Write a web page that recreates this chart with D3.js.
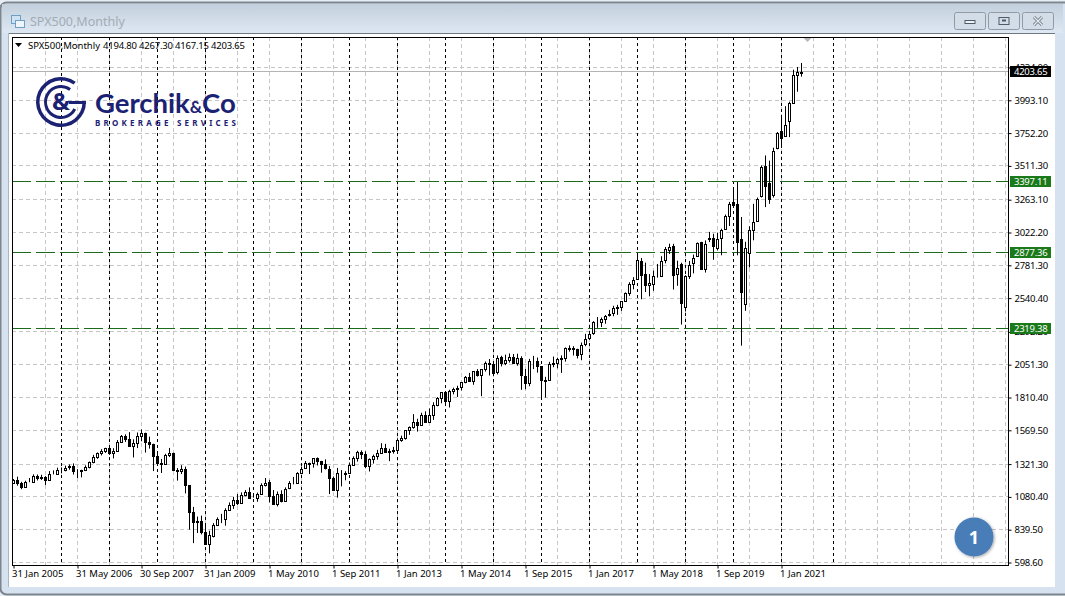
<!DOCTYPE html>
<html>
<head>
<meta charset="utf-8">
<title>SPX500,Monthly</title>
<script src="https://cdn.jsdelivr.net/npm/d3@7"></script>
<style>
  html, body { margin: 0; padding: 0; background: #dfe9f3; overflow: hidden; }
  svg { display: block; font-family: "Noto Sans", sans-serif; }
</style>
</head>
<body>
<div id="chart"></div>
<script>
// Monthly candles, oldest first
const opens = [
  1181,1203,1180,1156,1191,1191,1234,1220,1228,1207,1249,
  1248,1280,1280,1302,1310,1270,1270,1278,1303,1335,1377,1400,
  1418,1438,1406,1420,1482,1530,1503,1455,1473,1526,1549,1481,
  1468,1378,1330,1322,1385,1400,1280,1267,1282,1166,968,896,
  903,825,735,793,872,919,919,987,1020,1057,1036,1095,
  1115,1085,1073,1104,1169,1188,1089,1031,1101,1049,1143,1183,1186,
  1257,1289,1328,1329,1365,1345,1320,1287,1219,1131,1251,1246,
  1258,1312,1366,1408,1398,1310,1362,1379,1406,1440,1412,1416,
  1426,1498,1514,1569,1597,1631,1606,1685,1632,1681,1756,1806,
  1848,1782,1859,1873,1884,1923,1960,1930,2003,1972,2018,2067,
  2058,1996,2105,2067,2087,2108,2067,2104,1970,1919,2080,2082,
  2039,1937,1938,2057,2067,2093,2099,2173,2171,2164,2128,2200,
  2251,2285,2364,2363,2388,2415,2431,2477,2474,2521,2578,2645,
  2683,2816,2715,2633,2642,2718,2704,2821,2896,2926,2717,2790,
  2476,2703,2798,2848,2952,2751,2971,2980,2909,2983,3050,3144,
  3244,3235,2974,2498,2869,3038,3105,3288,3507,3385,3296,3645,
  3764,3731,3842,3974,4181,4194.80
];
const highs = [
  1212,1229,1191,1199,1219,1246,1245,1243,1233,1270,1275,
  1295,1297,1310,1318,1326,1284,1280,1312,1340,1389,1407,1431,
  1441,1461,1438,1498,1535,1540,1556,1503,1553,1576,1552,1523,
  1471,1396,1359,1397,1440,1405,1292,1313,1303,1167,1007,936,
  943,875,832,888,930,956,997,1040,1081,1102,1113,1130,
  1150,1097,1112,1180,1219,1205,1131,1120,1129,1150,1196,1227,1262,
  1302,1344,1332,1364,1370,1345,1356,1307,1230,1293,1277,1269,
  1333,1378,1419,1422,1415,1363,1391,1426,1475,1470,1434,1448,
  1510,1530,1570,1598,1688,1654,1698,1709,1730,1775,1813,1849,
  1850,1867,1883,1897,1924,1968,1991,2005,2019,2018,2075,2093,
  2072,2119,2117,2125,2134,2130,2132,2113,2020,2094,2116,2104,
  2039,1962,2072,2111,2103,2120,2178,2193,2187,2169,2214,2278,
  2300,2371,2401,2398,2416,2454,2484,2491,2519,2582,2657,2694,
  2872,2835,2801,2717,2742,2791,2848,2916,2940,2939,2815,2800,
  2708,2813,2860,2949,2954,2964,3027,3013,3021,3050,3154,3247,
  3337,3393,3136,2954,3068,3233,3279,3514,3588,3550,3645,3760,
  3870,3950,3983,4218,4238,4267.30
];
const lows = [
  1180,1163,1137,1146,1188,1183,1201,1205,1168,1201,1246,
  1245,1253,1268,1280,1245,1219,1224,1270,1290,1327,1360,1385,
  1403,1389,1363,1416,1476,1484,1448,1370,1439,1489,1406,1435,
  1270,1316,1256,1320,1373,1272,1200,1248,1106,840,741,815,
  805,735,666,783,866,888,869,978,992,1020,1029,1085,
  1071,1075,1045,1101,1157,1040,1028,1010,1040,1049,1137,1173,1186,
  1257,1289,1249,1295,1311,1258,1282,1101,1136,1075,1158,1202,
  1258,1312,1340,1358,1291,1267,1325,1354,1397,1403,1343,1398,
  1426,1485,1501,1536,1581,1560,1604,1627,1633,1646,1746,1768,
  1770,1737,1834,1814,1862,1915,1930,1904,1964,1820,2001,1972,
  1988,1980,2039,2048,2067,2056,2044,1867,1871,1893,2019,1993,
  1812,1810,1937,2033,2025,1991,2074,2147,2119,2097,2084,2187,
  2245,2271,2322,2328,2352,2405,2407,2417,2446,2520,2557,2605,
  2683,2532,2585,2553,2594,2691,2698,2796,2864,2603,2631,2346,
  2443,2681,2722,2848,2750,2728,2952,2822,2891,2855,3050,3070,
  3214,2855,2191,2447,2766,2965,3101,3279,3209,3233,3279,3633,
  3662,3725,3723,3974,4056,4167.15
];
const closes = [
  1203,1180,1156,1191,1191,1234,1220,1228,1207,1249,1248,
  1280,1280,1294,1310,1270,1270,1276,1303,1335,1377,1400,1418,
  1438,1406,1420,1482,1530,1503,1455,1473,1526,1549,1481,1468,
  1378,1330,1322,1385,1400,1280,1267,1282,1166,968,896,903,
  825,735,797,872,919,919,987,1020,1057,1036,1095,1115,
  1073,1085,1104,1169,1186,1089,1030,1101,1049,1141,1183,1180,1257,
  1286,1327,1325,1363,1345,1320,1292,1218,1131,1253,1246,1257,
  1312,1365,1408,1397,1310,1362,1379,1406,1440,1412,1416,1426,
  1498,1514,1569,1597,1630,1606,1685,1632,1681,1756,1805,1848,
  1782,1859,1872,1883,1923,1960,1930,2003,1972,2018,2067,2058,
  1994,2104,2067,2085,2107,2063,2103,1972,1920,2079,2080,2043,
  1940,1932,2059,2065,2096,2098,2173,2170,2168,2126,2198,2238,
  2278,2363,2362,2384,2411,2423,2470,2471,2519,2575,2647,2673,
  2823,2713,2640,2648,2705,2718,2816,2901,2913,2711,2760,2506,
  2704,2784,2834,2945,2752,2941,2980,2926,2976,3037,3140,3230,
  3225,2954,2584,2912,3044,3100,3271,3500,3363,3269,3621,3756,
  3714,3811,3972,4181,4204,4203.65
];

const priceTicks = [598.6, 839.5, 1080.4, 1321.3, 1569.5, 1810.4, 2051.3, 2292.2,
  2540.4, 2781.3, 3022.2, 3263.1, 3511.3, 3752.2, 3993.1, 4234.0];
const levels = [3397.11, 2877.36, 2319.38];
const lastPrice = 4203.65;

// bar number of each date label, and of the dashed period separators
const dateBars = [0, 16, 32, 48, 64, 80, 96, 112, 128, 144, 160, 176, 192];
const dateLabels = ['31 Jan 2005', '31 May 2006', '30 Sep 2007', '31 Jan 2009', '1 May 2010', '1 Sep 2011',
  '1 Jan 2013', '1 May 2014', '1 Sep 2015', '1 Jan 2017', '1 May 2018', '1 Sep 2019', '1 Jan 2021'];
const separatorBars = [12, 24, 36, 48, 60, 72, 84, 96, 108, 120, 132, 144, 156, 168, 180, 192, 205];
const gridBars = [8, 16, 24, 32, 40, 48, 56, 64, 72, 80, 88, 96, 104, 112, 120, 128, 136, 144, 152, 160,
  168, 176, 184, 192, 200, 208, 216, 224, 232, 240, 248];

const width = 1065;
const height = 596;
const plot = { left: 12, right: 1008, top: 37, bottom: 565 };

const svg = d3.select('#chart').append('svg')
  .attr('width', width)
  .attr('height', height);

const defs = svg.append('defs');
const titleGrad = defs.append('linearGradient')
  .attr('id', 'titleGrad').attr('x1', 0).attr('x2', 0).attr('y1', 0).attr('y2', 1);
titleGrad.append('stop').attr('offset', '0').attr('stop-color', '#c3cfdc');
titleGrad.append('stop').attr('offset', '1').attr('stop-color', '#dde8f3');
const shadow = defs.append('filter').attr('id', 'soft')
  .attr('x', '-30%').attr('y', '-30%').attr('width', '160%').attr('height', '160%');
shadow.append('feDropShadow').attr('dx', 1).attr('dy', 1).attr('stdDeviation', 1.5)
  .attr('flood-color', '#000').attr('flood-opacity', 0.35);

// Window frame
svg.append('rect').attr('width', width).attr('height', height).attr('fill', '#e8eef5');
svg.append('rect').attr('x', 0.5).attr('y', 2.5).attr('width', 1075).attr('height', 592).attr('rx', 6)
  .attr('fill', '#d6e2ef').attr('stroke', '#7d868f').attr('stroke-width', 2);
svg.append('rect').attr('x', 2).attr('y', 4).attr('width', 1061).attr('height', 29)
  .attr('fill', 'url(#titleGrad)');
svg.append('rect').attr('x', 9).attr('y', 33).attr('width', 1046).attr('height', 554).attr('fill', '#fff');
svg.append('line').attr('x1', 9).attr('x2', 1055).attr('y1', 33.5).attr('y2', 33.5).attr('stroke', '#6f7780');
svg.append('line').attr('x1', 8.5).attr('x2', 8.5).attr('y1', 33).attr('y2', 587).attr('stroke', '#a9b6c4');

// Title bar
const icon = svg.append('g').attr('fill', 'none').attr('stroke', '#6e9fc4');
icon.append('rect').attr('x', 11.5).attr('y', 15.5).attr('width', 9).attr('height', 8).attr('fill', '#cfe2f2');
icon.append('rect').attr('x', 15.5).attr('y', 20.5).attr('width', 9).attr('height', 7).attr('fill', '#eef5fb');
svg.append('text').attr('x', 30).attr('y', 26).attr('font-size', 12.5).attr('fill', '#a3abb3')
  .text('SPX500,Monthly');

const buttons = svg.append('g');
[954, 988, 1022].forEach((bx, i) => {
  buttons.append('rect').attr('x', bx + 0.5).attr('y', 12.5).attr('width', 31).attr('height', 17).attr('rx', 2)
    .attr('fill', '#d3dde8').attr('stroke', '#8f9aa6');
  const cx = bx + 16;
  if (i === 0) {
    buttons.append('rect').attr('x', cx - 5).attr('y', 20.5).attr('width', 10).attr('height', 3)
      .attr('fill', '#eef2f6').attr('stroke', '#4f5a66');
  } else if (i === 1) {
    buttons.append('rect').attr('x', cx - 5).attr('y', 17.5).attr('width', 10).attr('height', 7)
      .attr('fill', 'none').attr('stroke', '#4f5a66');
    buttons.append('rect').attr('x', cx - 2).attr('y', 19.5).attr('width', 4).attr('height', 2).attr('fill', '#4f5a66');
  } else {
    buttons.append('path').attr('d', `M${cx - 4},17 L${cx + 4},25 M${cx + 4},17 L${cx - 4},25`)
      .attr('stroke', '#6b7682').attr('stroke-width', 3);
    buttons.append('path').attr('d', `M${cx - 4},17 L${cx + 4},25 M${cx + 4},17 L${cx - 4},25`)
      .attr('stroke', '#e9eef3').attr('stroke-width', 1.2);
  }
});

// Scales
const x = d3.scaleLinear().domain([0, 1]).range([13.5, 17.5]);
const y = d3.scaleLinear().domain([598.6, 4234]).range([562.5, 67.5]);
const gridY = d => Math.floor(y(d)) + 0.5;

const chart = svg.append('g');

// Light grid
chart.selectAll('.grid-h').data(priceTicks).join('line')
  .attr('x1', plot.left).attr('x2', plot.right)
  .attr('y1', gridY).attr('y2', gridY)
  .attr('stroke', '#c6c6c6').attr('stroke-dasharray', '4,3');
chart.selectAll('.grid-v').data(gridBars).join('line')
  .attr('x1', d => x(d)).attr('x2', d => x(d))
  .attr('y1', plot.top).attr('y2', plot.bottom)
  .attr('stroke', '#c6c6c6').attr('stroke-dasharray', '4,3');

// Period separators
chart.selectAll('.sep').data(separatorBars).join('line')
  .attr('x1', d => x(d)).attr('x2', d => x(d))
  .attr('y1', plot.top).attr('y2', plot.bottom)
  .attr('stroke', '#000').attr('stroke-dasharray', '3,3');

// Current price line
chart.append('line')
  .attr('x1', plot.left).attr('x2', plot.right)
  .attr('y1', gridY(lastPrice)).attr('y2', gridY(lastPrice))
  .attr('stroke', '#b4b4b4');

// Horizontal levels
chart.selectAll('.level').data(levels).join('line')
  .attr('x1', plot.left).attr('x2', plot.right)
  .attr('y1', gridY).attr('y2', gridY)
  .attr('stroke', '#1c6a1c').attr('stroke-dasharray', '19,5');

// Candles
const candles = chart.selectAll('.candle').data(d3.range(closes.length)).join('g');
candles.append('line')
  .attr('x1', d => x(d)).attr('x2', d => x(d))
  .attr('y1', d => y(highs[d])).attr('y2', d => y(lows[d]))
  .attr('stroke', '#000');
candles.append('rect')
  .attr('x', d => x(d) - 1)
  .attr('width', 2)
  .attr('y', d => Math.round(y(Math.max(opens[d], closes[d]))) + 0.5)
  .attr('height', d => Math.abs(Math.round(y(opens[d])) - Math.round(y(closes[d]))))
  .attr('fill', d => closes[d] >= opens[d] ? '#fff' : '#000')
  .attr('stroke', '#000');

// Shift marker at the top
const lastX = x(closes.length - 1);
chart.append('path')
  .attr('d', `M${lastX + 1},37 L${lastX + 11},37 L${lastX + 6},42 Z`)
  .attr('fill', '#b9b9b9');

// Frame
svg.append('rect')
  .attr('x', plot.left + 0.5).attr('y', plot.top + 0.5)
  .attr('width', plot.right - plot.left).attr('height', plot.bottom - plot.top)
  .attr('fill', 'none').attr('stroke', '#000');

// Axes
const yAxis = d3.axisRight(y)
  .tickValues(priceTicks)
  .tickFormat(d3.format('.2f'))
  .tickSize(3)
  .tickPadding(3);
const gy = svg.append('g').attr('transform', `translate(${plot.right + 0.5},0)`).call(yAxis);
gy.select('.domain').remove();
gy.selectAll('text').attr('font-size', 9.5).attr('letter-spacing', -0.25).attr('fill', '#000')
  .attr('font-family', '"Noto Sans", sans-serif');

const xAxis = d3.axisBottom(x)
  .tickValues(dateBars)
  .tickFormat((d, i) => dateLabels[i])
  .tickSize(3)
  .tickPadding(2);
const gx = svg.append('g').attr('transform', `translate(0,${plot.bottom + 0.5})`).call(xAxis);
gx.select('.domain').remove();
gx.selectAll('text').attr('font-size', 9.5).attr('fill', '#000').attr('text-anchor', 'start')
  .attr('dx', -2).attr('font-family', '"Noto Sans", sans-serif');

// Price tags on the right
function priceTag(value, bg) {
  const ty = gridY(value);
  svg.append('rect').attr('x', 1010).attr('y', ty - 5.5).attr('width', 41).attr('height', 11).attr('fill', bg);
  svg.append('text').attr('x', 1014).attr('y', ty + 3.5).attr('font-size', 9.5).attr('letter-spacing', -0.25)
    .attr('fill', '#fff').text(d3.format('.2f')(value));
}
levels.forEach(v => priceTag(v, '#1a7a1a'));
priceTag(lastPrice, '#000');

// Chart caption
svg.append('path').attr('d', 'M15,43 L22,43 L18.5,47 Z').attr('fill', '#000');
svg.append('text').attr('x', 28).attr('y', 49).attr('font-size', 9.5).attr('fill', '#000').text('SPX500,Monthly');
const lastBar = closes.length - 1;
svg.append('text').attr('x', 103).attr('y', 49).attr('font-size', 9.5).attr('letter-spacing', -0.2).attr('fill', '#000')
  .text([opens[lastBar], highs[lastBar], lows[lastBar], closes[lastBar]].map(d3.format('.2f')).join(' '));

// Gerchik & Co logo
const navy = '#1c2273';
const logo = svg.append('g').attr('transform', 'translate(61,102)');
const ring = d3.arc();
logo.append('path').attr('fill', navy)
  .attr('d', ring({ innerRadius: 21.5, outerRadius: 25, startAngle: Math.PI * 0.5, endAngle: Math.PI * 2.2 }));
logo.append('path').attr('fill', navy)
  .attr('d', ring({ innerRadius: 14, outerRadius: 17, startAngle: Math.PI * 0.65, endAngle: Math.PI * 2.2 }));
logo.append('rect').attr('x', 8).attr('y', -1).attr('width', 17).attr('height', 3).attr('fill', navy);
logo.append('text').attr('text-anchor', 'middle').attr('y', 8).attr('font-size', 24).attr('font-weight', 700)
  .attr('fill', navy).text('&');
const brand = svg.append('text').attr('x', 95).attr('y', 113).attr('font-family', 'Lato, sans-serif')
  .attr('font-size', 27.5).attr('font-weight', 700).attr('fill', navy);
brand.append('tspan').text('Gerchik');
brand.append('tspan').attr('font-size', 17).text('&');
brand.append('tspan').text('Co');
svg.append('text').attr('x', 95).attr('y', 125.5).attr('font-size', 8).attr('font-weight', 700)
  .attr('fill', navy).attr('textLength', 141).text('BROKERAGE SERVICES');

// Numbered badge
svg.append('circle').attr('cx', 974).attr('cy', 537).attr('r', 19.5)
  .attr('fill', '#4a7db8').attr('filter', 'url(#soft)');
svg.append('text').attr('x', 974).attr('y', 543.5).attr('text-anchor', 'middle')
  .attr('font-size', 18).attr('font-weight', 700).attr('fill', '#fff').text('1');
</script>
</body>
</html>
